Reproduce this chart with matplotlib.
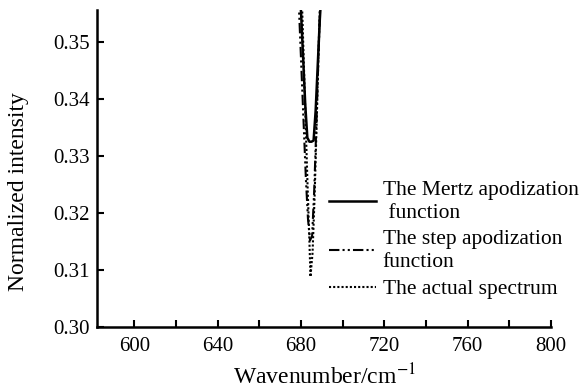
import matplotlib
matplotlib.use("Agg")
import matplotlib.pyplot as plt

plt.rcParams['font.family'] = ['Liberation Serif', 'DejaVu Serif']
plt.rcParams['mathtext.fontset'] = 'stix'

# curves (wavenumber in cm^-1, normalized intensity)
mertz_wn = [679.0, 680.0, 681.0, 682.0, 683.0, 684.0, 685.0, 686.0, 687.0, 688.0, 689.0, 690.3]
mertz_int = [0.362, 0.355, 0.347, 0.339, 0.3332, 0.3325, 0.3325, 0.3327, 0.338, 0.346, 0.354, 0.362]

step_wn = [678.3, 679.3, 680.3, 681.3, 682.3, 683.3, 684.3, 685.3, 686.3, 687.3, 688.3, 689.5]
step_int = [0.362, 0.353, 0.344, 0.335, 0.326, 0.319, 0.3152, 0.316, 0.324, 0.335, 0.347, 0.360]

actual_wn = [680.0, 681.0, 682.0, 683.0, 684.0, 684.5, 685.5, 686.5, 687.5, 688.5, 689.5]
actual_int = [0.362, 0.350, 0.338, 0.326, 0.315, 0.3088, 0.313, 0.323, 0.336, 0.350, 0.362]

labels = ["The Mertz apodization\n function", "The step apodization\nfunction", "The actual spectrum"]
x_ticks = [600, 640, 680, 720, 760, 800]
y_ticks = [0.30, 0.31, 0.32, 0.33, 0.34, 0.35]

fig = plt.figure(figsize=(5.86, 3.91), dpi=100)
ax = fig.add_axes([97 / 586, 1 - 327 / 391, (551 - 97) / 586, (327 - 10) / 391])

ax.plot(mertz_wn, mertz_int, color='black', lw=1.8, ls='-', label=labels[0])
ax.plot(step_wn, step_int, color='black', lw=1.5, ls=(0, (5, 1.5, 1, 1.5, 1, 1.5)), label=labels[1])
ax.plot(actual_wn, actual_int, color='black', lw=1.5, ls=(0, (1, 1)), label=labels[2])

ax.set_xlim(582, 800)
ax.set_ylim(0.30, 0.3556)
ax.set_xticks(range(600, 801, 20), minor=True)
ax.set_xticks(x_ticks)
ax.set_yticks(y_ticks)
ax.set_yticklabels([f"{v:.2f}" for v in y_ticks])

for side in ['top', 'right']:
    ax.spines[side].set_visible(False)
for side in ['left', 'bottom']:
    ax.spines[side].set_linewidth(1.8)

ax.tick_params(direction='in', length=5, width=1.5, labelsize=15, pad=7)
ax.tick_params(axis='x', which='minor', direction='in', length=5, width=1.5)
ax.tick_params(axis='y', pad=5)

ax.set_xlabel("Wavenumber/cm$^{-1}$", fontsize=17, labelpad=6)
ax.set_ylabel("Normalized intensity", fontsize=17)
ax.yaxis.set_label_coords(-0.15, 0.426)

leg = ax.legend(loc='upper left', bbox_to_anchor=(329 / 586, 1 - 181 / 391), bbox_transform=fig.transFigure,
                frameon=False, fontsize=15.5, handlelength=2.2, handletextpad=0.3,
                borderpad=0, borderaxespad=0, labelspacing=0.35)
for t in leg.get_texts():
    t.set_linespacing(1.25)

fig.savefig("out.png", dpi=100)
